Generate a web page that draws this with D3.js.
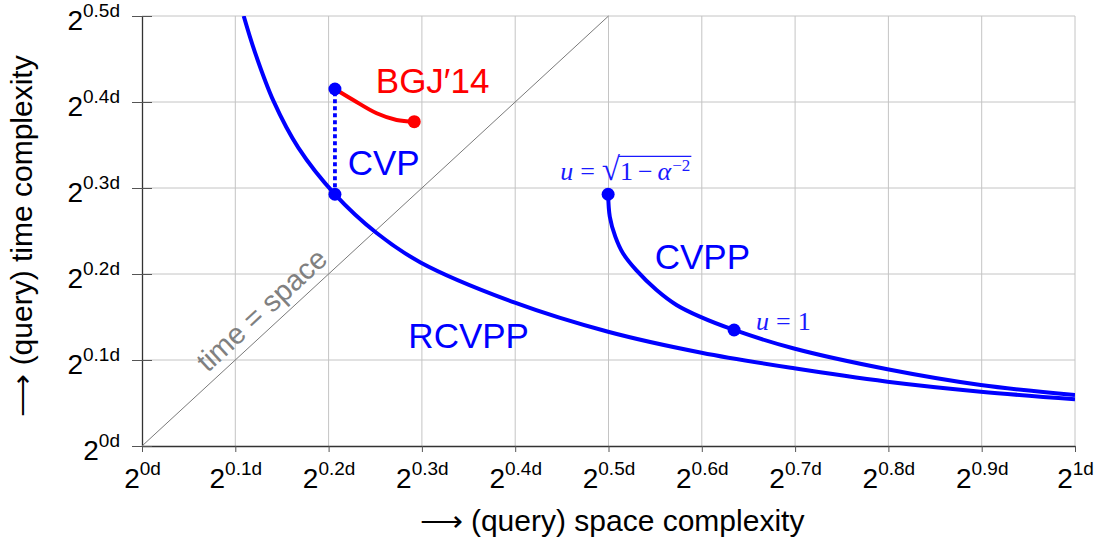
<!DOCTYPE html>
<html lang="en">
<head>
<meta charset="utf-8">
<style>
  body { margin: 0; background: #fff; }
  text { font-family: "Liberation Sans", Arial, sans-serif; }
  .math { font-family: "Liberation Serif", "Times New Roman", serif; }
</style>
</head>
<body>
<script src="https://cdn.jsdelivr.net/npm/d3@7"></script>
<script>

// exponents of 2^(.d) on both axes
var xTicks = [0, 0.1, 0.2, 0.3, 0.4, 0.5, 0.6, 0.7, 0.8, 0.9, 1];
var yTicks = [0, 0.1, 0.2, 0.3, 0.4, 0.5];
var tickLabels = ["0", "0.1", "0.2", "0.3", "0.4", "0.5", "0.6", "0.7", "0.8", "0.9", "1"];

// RCVPP trade-off (space, time)
var rcvppX = [0.109, 0.121, 0.141, 0.1675, 0.2068, 0.2515, 0.2985, 0.3997, 0.4996, 0.5997, 0.699, 0.799, 0.899, 1.0];
var rcvppY = [0.500, 0.458, 0.401, 0.347, 0.2927, 0.2477, 0.2135, 0.1667, 0.1329, 0.1085, 0.0903, 0.0748, 0.0632, 0.0543];

// CVPP, from u = sqrt(1 - alpha^-2) onwards
var cvppX = [0.4996, 0.5014, 0.5073, 0.5155, 0.5295, 0.5515, 0.5729, 0.5979, 0.6346, 0.6978, 0.799, 0.899, 1.0];
var cvppY = [0.2927, 0.2666, 0.2434, 0.2241, 0.2047, 0.1814, 0.1640, 0.1504, 0.1349, 0.1136, 0.0892, 0.0709, 0.0593];

// BGJ'14 sieve CVP
var bgjX = [0.2068, 0.2264, 0.2515, 0.2729, 0.2918];
var bgjY = [0.4151, 0.4023, 0.3869, 0.3791, 0.3771];

// CVP (no preprocessing) vertical segment
var cvpX = [0.2068, 0.2068];
var cvpY = [0.2927, 0.4151];

// marked points
var bluePtsX = [0.2068, 0.2068, 0.4996, 0.6346];
var bluePtsY = [0.4151, 0.2927, 0.2927, 0.1349];
var redPtsX = [0.2918];
var redPtsY = [0.3771];

var margin = {top: 16, right: 26, bottom: 97, left: 142},
    width = 1101 - margin.left - margin.right,
    height = 543 - margin.top - margin.bottom;

var svg = d3.select("body").append("svg")
    .attr("width", 1101)
    .attr("height", 543),
    g = svg.append("g").attr("transform", "translate(" + margin.left + "," + margin.top + ")");

var x = d3.scaleLinear().domain([0, 1]).range([0, width]);
var y = d3.scaleLinear().domain([0, 0.5]).range([height, 0]);

function zip(xs, ys) { return xs.map(function(v, i) { return [v, ys[i]]; }); }

var line = d3.line()
    .x(function(d) { return x(d[0]); })
    .y(function(d) { return y(d[1]); })
    .curve(d3.curveCatmullRom.alpha(0.5));

svg.append("defs").append("clipPath").attr("id", "clip")
  .append("rect").attr("width", width).attr("height", height);

// grid
g.append("g").selectAll("line").data(xTicks.slice(1)).enter().append("line")
    .attr("x1", x).attr("x2", x).attr("y1", 0).attr("y2", height)
    .attr("stroke", "#c4c4c4").attr("stroke-width", 1);
g.append("g").selectAll("line").data(yTicks.slice(1)).enter().append("line")
    .attr("y1", y).attr("y2", y).attr("x1", 0).attr("x2", width)
    .attr("stroke", "#c4c4c4").attr("stroke-width", 1);

// axes
var xAxis = g.append("g")
    .attr("transform", "translate(0," + height + ")")
    .call(d3.axisBottom(x).tickValues(xTicks).tickSize(6).tickSizeOuter(0).tickFormat(""));
var yAxis = g.append("g")
    .call(d3.axisLeft(y).tickValues(yTicks).tickSize(10).tickSizeOuter(0).tickFormat(""));
yAxis.selectAll(".tick line").attr("x2", 10).attr("x1", -10);
g.selectAll(".domain").attr("stroke", "#333").attr("stroke-width", 1.3);
g.selectAll(".tick line").attr("stroke", "#555");

xAxis.selectAll(".tick text")
    .attr("y", 42).attr("dy", null)
    .attr("fill", "#000").attr("text-anchor", "middle")
    .each(function(d, i) {
      var t = d3.select(this);
      t.append("tspan").attr("font-size", 28).text("2");
      t.append("tspan").attr("font-size", 19).attr("dy", -13).text(tickLabels[i] + "d");
    });

yAxis.selectAll(".tick text")
    .attr("x", -22).attr("y", 13).attr("dy", null)
    .attr("fill", "#000").attr("text-anchor", "end")
    .each(function(d, i) {
      var t = d3.select(this);
      t.append("tspan").attr("font-size", 28).text("2");
      t.append("tspan").attr("font-size", 19).attr("dy", -13).text(tickLabels[i] + "d");
    });

// axis titles
svg.append("text")
    .attr("x", 612)
    .attr("y", 531)
    .attr("text-anchor", "middle")
    .attr("font-size", 30)
    .text("\u27F6 (query) space complexity");

svg.append("text")
    .attr("transform", "translate(32," + 236 + ") rotate(-90)")
    .attr("text-anchor", "middle")
    .attr("font-size", 30)
    .text("\u27F6 (query) time complexity");

// time = space diagonal
g.append("line")
    .attr("x1", x(0)).attr("y1", y(0))
    .attr("x2", x(0.5)).attr("y2", y(0.5))
    .attr("stroke", "#7a7a7a").attr("stroke-width", 1);

var ang = Math.atan2(y(0) - y(0.5), x(0.5) - x(0)) * 180 / Math.PI;
g.append("text")
    .attr("transform", "translate(" + x(0.142) + "," + y(0.142) + ") rotate(" + (-ang) + ") translate(0,-9)")
    .attr("text-anchor", "middle")
    .attr("font-size", 29)
    .attr("fill", "#808080")
    .text("time = space");

var plot = g.append("g").attr("clip-path", "url(#clip)");

plot.append("path")
    .datum(zip(rcvppX, rcvppY))
    .attr("fill", "none").attr("stroke", "#0000ff").attr("stroke-width", 4)
    .attr("d", line);

plot.append("path")
    .datum(zip(cvppX, cvppY))
    .attr("fill", "none").attr("stroke", "#0000ff").attr("stroke-width", 4)
    .attr("d", line);

plot.append("path")
    .datum(zip(bgjX, bgjY))
    .attr("fill", "none").attr("stroke", "#ff0000").attr("stroke-width", 4)
    .attr("d", line);

plot.append("line")
    .attr("x1", x(cvpX[0])).attr("y1", y(cvpY[0]))
    .attr("x2", x(cvpX[1])).attr("y2", y(cvpY[1]))
    .attr("stroke", "#0000ff").attr("stroke-width", 3.8)
    .attr("stroke-dasharray", "4,3");

g.append("g").selectAll("circle").data(zip(redPtsX, redPtsY)).enter().append("circle")
    .attr("cx", function(d) { return x(d[0]); })
    .attr("cy", function(d) { return y(d[1]); })
    .attr("r", 6.5).attr("fill", "#ff0000");

g.append("g").selectAll("circle").data(zip(bluePtsX, bluePtsY)).enter().append("circle")
    .attr("cx", function(d) { return x(d[0]); })
    .attr("cy", function(d) { return y(d[1]); })
    .attr("r", 6.5).attr("fill", "#0000ff");

// curve labels
var labels = [
  {t: "BGJ\u203214", x: 0.2506, y: 0.41, c: "#ff0000"},
  {t: "CVP", x: 0.2205, y: 0.3155, c: "#0000ff"},
  {t: "CVPP", x: 0.5495, y: 0.2055, c: "#0000ff"},
  {t: "RCVPP", x: 0.2855, y: 0.1145, c: "#0000ff"}
];
g.append("g").selectAll("text").data(labels).enter().append("text")
    .attr("x", function(d) { return x(d.x); })
    .attr("y", function(d) { return y(d.y); })
    .attr("font-size", 35)
    .attr("fill", function(d) { return d.c; })
    .text(function(d) { return d.t; });

// u = sqrt(1 - alpha^-2)
var mathBlue = "#1a1aff";
var ux = x(bluePtsX[2]) - 48, uy = y(bluePtsY[2]) - 14;
var m1 = g.append("text").attr("class", "math")
    .attr("x", ux).attr("y", uy).attr("font-size", 26).attr("fill", mathBlue);
m1.append("tspan").attr("font-style", "italic").text("u");
m1.append("tspan").attr("dx", 7).text("=");
m1.append("tspan").attr("dx", 7).attr("font-size", 33).text("\u221A");
var rx = ux + m1.node().getComputedTextLength() + 14;
var m2 = g.append("text").attr("class", "math")
    .attr("x", rx).attr("y", uy).attr("font-size", 26).attr("fill", mathBlue);
m2.append("tspan").text("1");
m2.append("tspan").attr("dx", 5).text("\u2212");
m2.append("tspan").attr("dx", 5).attr("font-style", "italic").text("\u03B1");
m2.append("tspan").attr("font-size", 17).attr("dy", -9).attr("dx", 1).text("\u22122");
g.append("line")
    .attr("x1", rx - 1).attr("x2", rx + m2.node().getComputedTextLength() + 12)
    .attr("y1", uy - 24).attr("y2", uy - 24)
    .attr("stroke", mathBlue).attr("stroke-width", 1.2);

var m3 = g.append("text").attr("class", "math")
    .attr("x", x(bluePtsX[3]) + 22).attr("y", y(bluePtsY[3]))
    .attr("font-size", 26).attr("fill", mathBlue);
m3.append("tspan").attr("font-style", "italic").text("u");
m3.append("tspan").attr("dx", 7).text("=");
m3.append("tspan").attr("dx", 7).text("1");

</script>
</body>
</html>
